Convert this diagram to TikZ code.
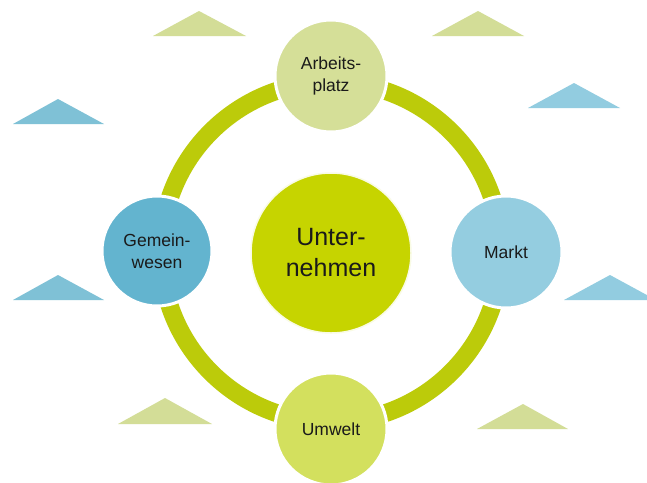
\documentclass[tikz,border=0pt]{standalone}
\usepackage{fontspec}
\setmainfont{Liberation Sans}
\definecolor{ringgreen}{HTML}{BCCB0A}
\definecolor{coregreen}{HTML}{C6D400}
\definecolor{palegreen}{HTML}{D5DF98}
\definecolor{limegreen}{HTML}{D3E05E}
\definecolor{midblue}{HTML}{63B4CF}
\definecolor{lightblue}{HTML}{94CDE0}
\definecolor{trigreen}{HTML}{D3DD97}
\definecolor{triblueL}{HTML}{7FC1D6}
\definecolor{triblueR}{HTML}{92CCE0}
\definecolor{textdark}{HTML}{1A1A1A}
\begin{document}
\begin{tikzpicture}[x=1pt,y=-1pt,
  bubble/.style={circle, draw=white, line width=3pt, inner sep=0pt,
    minimum size=112pt, align=center, text=textdark},
  small/.style={font=\fontsize{17.5}{22.5}\selectfont},
  big/.style={font=\fontsize{25}{31}\selectfont}]
\useasboundingbox (0,0) rectangle (647,482);
\fill[white] (0,0) rectangle (647,482);

% decorative triangles
\fill[trigreen] (153,36) -- (199,11) -- (246,36) -- cycle;
\fill[trigreen] (432,36) -- (478,11) -- (524,36) -- cycle;
\fill[trigreen] (118,424) -- (165,398) -- (212,424) -- cycle;
\fill[trigreen] (477,429) -- (523,404) -- (568,429) -- cycle;
\fill[triblueL] (13,124) -- (58,99) -- (104,124) -- cycle;
\fill[triblueL] (13,300) -- (58,275) -- (104,300) -- cycle;
\fill[triblueR] (528,108) -- (574,83) -- (620,108) -- cycle;
\fill[triblueR] (564,300) -- (610,275) -- (656,300) -- cycle;

% ring linking the four outer circles
\draw[ringgreen, line width=18pt] (331,252) circle[radius=170];

% circles
\node[bubble, big, fill=coregreen, draw=white!90!coregreen, line width=1.5pt,
  minimum size=160pt] (unt) at (331,253) {Unter-\\nehmen};
\node[bubble, small, fill=palegreen] (arb) at (331,76) {Arbeits-\\platz};
\node[bubble, small, fill=midblue, minimum size=110pt] (gem) at (157,251) {Gemein-\\wesen};
\node[bubble, small, fill=lightblue] (mkt) at (506,252) {Markt};
\node[bubble, small, fill=limegreen] (umw) at (331,429) {Umwelt};
\end{tikzpicture}
\end{document}
